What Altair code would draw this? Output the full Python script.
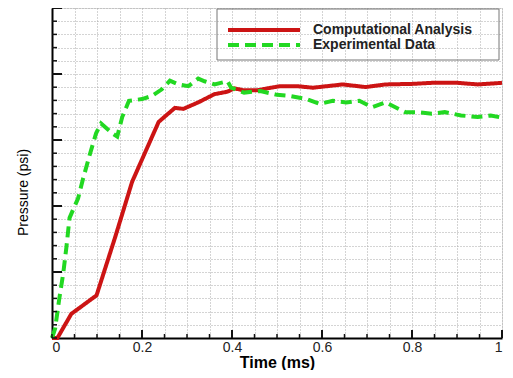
import altair as alt
import pandas as pd

# --- data (time in ms, pressure in grid units, no labels on y) ---
comp_t = [0.0, 0.012, 0.043, 0.099, 0.140, 0.178, 0.237, 0.273, 0.292, 0.325, 0.361,
          0.390, 0.405, 0.427, 0.456, 0.478, 0.507, 0.544, 0.580, 0.646, 0.697, 0.741,
          0.800, 0.844, 0.902, 0.946, 1.0]
comp_p = [0.0, 0.0, 1.83, 3.23, 7.6, 11.83, 16.37, 17.43, 17.36, 17.85, 18.47,
          18.66, 18.91, 18.76, 18.76, 18.91, 19.08, 19.08, 18.96, 19.21, 19.01, 19.21,
          19.25, 19.33, 19.33, 19.21, 19.33]

exp_t = [0.0, 0.007, 0.016, 0.025, 0.032, 0.039, 0.058, 0.069, 0.083, 0.098, 0.109,
         0.134, 0.145, 0.156, 0.171, 0.200, 0.222, 0.244, 0.262, 0.281, 0.303, 0.325,
         0.339, 0.361, 0.390, 0.398, 0.427, 0.463, 0.500, 0.529, 0.566, 0.595, 0.624,
         0.654, 0.683, 0.712, 0.741, 0.763, 0.785, 0.814, 0.844, 0.873, 0.909, 0.946,
         0.975, 1.0]
exp_p = [0.0, 0.72, 2.94, 4.90, 6.88, 9.10, 10.58, 12.06, 13.78, 15.51, 16.25,
         15.51, 15.26, 16.74, 17.97, 18.10, 18.34, 18.84, 19.50, 19.21, 19.08, 19.65,
         19.45, 19.21, 19.45, 18.96, 18.59, 18.71, 18.42, 18.34, 18.10, 17.73, 17.97,
         17.85, 17.97, 17.48, 17.85, 17.48, 17.11, 17.11, 16.99, 17.11, 16.86, 16.74,
         16.86, 16.69]

series_names = ["Computational Analysis", "Experimental Data"]
series_colors = ["#cc1414", "#22d822"]
series_dash = [[1, 0], [11, 6]]

x_tick_values = [0.0, 0.05, 0.1, 0.15, 0.2, 0.25, 0.3, 0.35, 0.4, 0.45, 0.5,
                 0.55, 0.6, 0.65, 0.7, 0.75, 0.8, 0.85, 0.9, 0.95, 1.0]
x_major_ticks = [0.2, 0.4, 0.6, 0.8, 1.0]
y_tick_values = list(range(0, 26))
y_major_ticks = [5, 10, 15, 20, 25]

W, H = 450, 330
FONT = "Liberation Sans"

df = pd.concat([
    pd.DataFrame({"t": comp_t, "p": comp_p, "series": series_names[0], "order": range(len(comp_t))}),
    pd.DataFrame({"t": exp_t, "p": exp_p, "series": series_names[1], "order": range(len(exp_t))}),
])

xscale = alt.Scale(domain=[0, 1], nice=False, zero=False)
yscale = alt.Scale(domain=[0, 25], nice=False)

x_axis = alt.Axis(values=x_tick_values, grid=True, gridColor="#a8a8a8", gridDash=[1, 2],
                  gridWidth=1, ticks=False, domainColor="black", domainWidth=2,
                  labelExpr="abs(round(datum.value*5) - datum.value*5) < 0.001 ? format(datum.value, '.1~f') : ''",
                  labelOverlap=False, labelFont=FONT, labelFontSize=14, labelColor="#222",
                  labelPadding=2, title="Time (ms)", titleFont=FONT, titleFontSize=16,
                  titleFontWeight="bold", titlePadding=0, titleColor="black")
y_axis = alt.Axis(values=y_tick_values, grid=True, gridColor="#a8a8a8", gridDash=[1, 2],
                  gridWidth=1, ticks=False, labels=False, domainColor="black", domainWidth=2,
                  title="Pressure (psi)", titleFont=FONT, titleFontSize=14,
                  titleFontWeight="normal", titlePadding=22, titleY=184, titleColor="black")

lines = alt.Chart(df).mark_line(strokeWidth=4, strokeCap="butt").encode(
    x=alt.X("t:Q", scale=xscale, axis=x_axis),
    y=alt.Y("p:Q", scale=yscale, axis=y_axis),
    color=alt.Color("series:N", scale=alt.Scale(domain=series_names, range=series_colors),
                    legend=None),
    strokeDash=alt.StrokeDash("series:N", scale=alt.Scale(domain=series_names, range=series_dash),
                              legend=None),
    order="order:Q",
)

tick_color = "#111"
x_minor = alt.Chart(pd.DataFrame({"t": x_tick_values})).mark_rule(color=tick_color, strokeWidth=1.5).encode(
    x=alt.X("t:Q", scale=xscale, axis=x_axis), y=alt.value(H), y2=alt.value(H - 4))
x_major = alt.Chart(pd.DataFrame({"t": x_major_ticks})).mark_rule(color=tick_color, strokeWidth=2).encode(
    x=alt.X("t:Q", scale=xscale, axis=x_axis), y=alt.value(H), y2=alt.value(H - 8))
y_minor = alt.Chart(pd.DataFrame({"p": y_tick_values})).mark_rule(color=tick_color, strokeWidth=1.5).encode(
    y=alt.Y("p:Q", scale=yscale, axis=y_axis), x=alt.value(0), x2=alt.value(5))
y_major = alt.Chart(pd.DataFrame({"p": y_major_ticks})).mark_rule(color=tick_color, strokeWidth=2).encode(
    y=alt.Y("p:Q", scale=yscale, axis=y_axis), x=alt.value(0), x2=alt.value(10))

# --- legend drawn as marks ---
LX0, LX1 = 165, 447
leg_box = alt.Chart(pd.DataFrame({"k": [0]})).mark_rect(fill=None, stroke="#777", strokeWidth=1).encode(
    x=alt.value(LX0), x2=alt.value(LX1), y=alt.value(1), y2=alt.value(52))

legend_layers = [leg_box]
for i, name in enumerate(series_names):
    ypos = 22 + 15 * i
    one = pd.DataFrame({"series": [name]})
    legend_layers.append(
        alt.Chart(one).mark_rule(color=series_colors[i], strokeWidth=4, strokeDash=series_dash[i],
                                 strokeCap="butt").encode(
            x=alt.value(LX0 + 11), x2=alt.value(LX0 + 83), y=alt.value(ypos)))
    legend_layers.append(
        alt.Chart(one).mark_text(align="left", baseline="middle", font=FONT, fontSize=14,
                                 fontWeight="bold", color="#222").encode(
            text="series:N", x=alt.value(LX0 + 96), y=alt.value(ypos)))

chart = alt.layer(lines, x_minor, x_major, y_minor, y_major, *legend_layers).properties(
    width=W, height=H,
    autosize=alt.AutoSizeParams(type="none"),
    padding={"left": 44, "top": 0, "right": 3, "bottom": 32},
).configure_view(stroke=None).configure(background="white")

chart.save("out.html", embed_options={"renderer": "svg", "actions": False})
